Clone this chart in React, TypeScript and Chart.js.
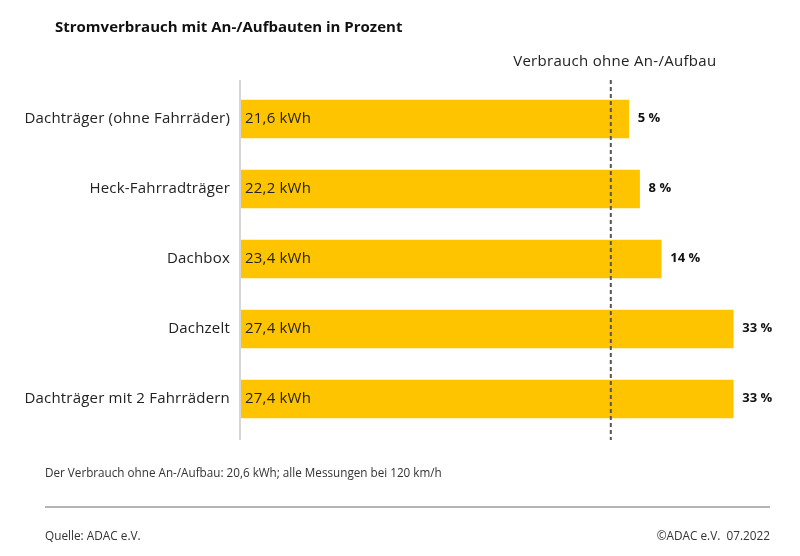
import React, { useEffect, useRef } from "react";
import { Chart, registerables } from "chart.js";

Chart.register(...registerables);

const categories = [
  "Dachträger (ohne Fahrräder)",
  "Heck-Fahrradträger",
  "Dachbox",
  "Dachzelt",
  "Dachträger mit 2 Fahrrädern",
];
const consumptionKWh = [21.6, 22.2, 23.4, 27.4, 27.4];
const consumptionLabels = ["21,6 kWh", "22,2 kWh", "23,4 kWh", "27,4 kWh", "27,4 kWh"];
const increasePercent = [5, 8, 14, 33, 33];
const baselineKWh = 20.6;

const titleText = "Stromverbrauch mit An-/Aufbauten in Prozent";
const baselineLabel = "Verbrauch ohne An-/Aufbau";
const footnoteText = "Der Verbrauch ohne An-/Aufbau: 20,6 kWh; alle Messungen bei 120 km/h";
const sourceText = "Quelle: ADAC e.V.";
const copyrightText = "©ADAC e.V.  07.2022";

const FONT = "'Open Sans', 'Noto Sans', sans-serif";

const overlayPlugin = {
  id: "overlay",
  afterDatasetsDraw(chart: any) {
    const ctx = chart.ctx as any;
    const xs = chart.scales.x;
    const ys = chart.scales.y;
    const area = chart.chartArea;
    ctx.save();

    // vertical axis line
    const x0 = xs.getPixelForValue(0);
    ctx.strokeStyle = "#d6d6d6";
    ctx.lineWidth = 2;
    ctx.setLineDash([]);
    ctx.beginPath();
    ctx.moveTo(x0, area.top - 4);
    ctx.lineTo(x0, area.bottom + 6);
    ctx.stroke();

    // baseline dashed line
    const xb = xs.getPixelForValue(baselineKWh);
    ctx.strokeStyle = "#555555";
    ctx.lineWidth = 2;
    ctx.setLineDash([4, 3]);
    ctx.beginPath();
    ctx.moveTo(xb, area.top - 4);
    ctx.lineTo(xb, area.bottom + 6);
    ctx.stroke();
    ctx.setLineDash([]);

    // baseline label
    ctx.fillStyle = "#222222";
    ctx.font = `15px ${FONT}`;
    ctx.letterSpacing = "0.3px";
    ctx.textAlign = "center";
    ctx.textBaseline = "middle";
    ctx.fillText(baselineLabel, xb + 4, area.top - 22);

    categories.forEach((cat, i) => {
      const yc = ys.getPixelForValue(i);
      // category label
      ctx.fillStyle = "#222222";
      ctx.font = `15px ${FONT}`;
      ctx.letterSpacing = "0.2px";
      ctx.textAlign = "right";
      ctx.fillText(cat, x0 - 10, yc);
      // value label inside bar
      ctx.textAlign = "left";
      ctx.fillText(consumptionLabels[i], x0 + 5, yc);
      // percent label
      const xe = xs.getPixelForValue(consumptionKWh[i]);
      ctx.font = `bold 13px ${FONT}`;
      ctx.letterSpacing = "0px";
      ctx.fillStyle = "#111111";
      ctx.fillText(`${increasePercent[i]} %`, xe + 9, yc - 1);
    });

    // title
    ctx.fillStyle = "#111111";
    ctx.font = `bold 15px ${FONT}`;
    ctx.letterSpacing = "0px";
    ctx.textAlign = "left";
    ctx.textBaseline = "alphabetic";
    ctx.fillText(titleText, 55, 32);

    // footnote
    ctx.fillStyle = "#333333";
    ctx.font = `11.7px ${FONT}`;
    ctx.textBaseline = "middle";
    ctx.fillText(footnoteText, 45, 474);

    // separator
    ctx.strokeStyle = "#b4b4b4";
    ctx.lineWidth = 2;
    ctx.beginPath();
    ctx.moveTo(45, 507);
    ctx.lineTo(770, 507);
    ctx.stroke();

    // source / copyright
    ctx.fillStyle = "#333333";
    ctx.font = `11.8px ${FONT}`;
    ctx.textAlign = "left";
    ctx.fillText(sourceText, 45, 537);
    ctx.textAlign = "right";
    ctx.fillText(copyrightText, 770, 537);

    ctx.restore();
  },
};

export default function App() {
  const canvasRef = useRef<HTMLCanvasElement | null>(null);

  useEffect(() => {
    if (!canvasRef.current) return;
    const chart = new Chart(canvasRef.current, {
      type: "bar",
      data: {
        labels: categories,
        datasets: [
          {
            data: consumptionKWh,
            backgroundColor: "#FFC400",
            borderWidth: 0,
            barThickness: 38,
          },
        ],
      },
      options: {
        indexAxis: "y",
        animation: false,
        responsive: false,
        maintainAspectRatio: false,
        layout: { padding: { left: 240, right: 20, top: 84, bottom: 122 } },
        scales: {
          x: { display: false, min: 0, max: 30 },
          y: { display: false },
        },
        plugins: {
          legend: { display: false },
          tooltip: { enabled: false },
          title: { display: false },
        },
      },
      plugins: [overlayPlugin],
    });
    return () => chart.destroy();
  }, []);

  return (
    <div style={{ position: "absolute", left: 0, top: 0, width: 800, height: 556, background: "#ffffff" }}>
      <canvas ref={canvasRef} width={800} height={556} style={{ display: "block" }} />
    </div>
  );
}
